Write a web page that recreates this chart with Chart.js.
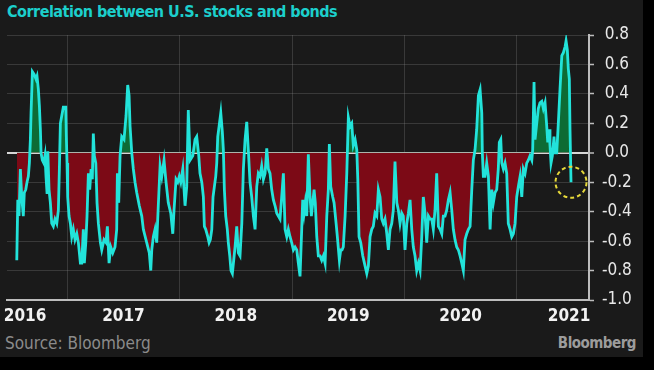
<!DOCTYPE html>
<html>
<head>
<meta charset="utf-8">
<script src="https://cdn.jsdelivr.net/npm/chart.js@4.4.1/dist/chart.umd.min.js"></script>
<style>
  html, body { margin: 0; padding: 0; background: #000; }
  body { width: 654px; height: 370px; overflow: hidden; position: relative; }
  .panel { position: absolute; left: 0; top: 0; width: 643px; height: 357px; background: #1a1a1a; }
  .title { position: absolute; left: 7px; top: 2px; color: #1ccfcc; font: bold 16px "DejaVu Sans Condensed", "DejaVu Sans", sans-serif; letter-spacing: -0.5px; white-space: nowrap; }
  .source { position: absolute; left: 5px; top: 333px; color: #8b8b8b; font: 17px "DejaVu Sans Condensed", "DejaVu Sans", sans-serif; }
  .logo { position: absolute; right: 7px; top: 334px; color: #9c9c9c; font: bold 15px "DejaVu Sans Condensed", "DejaVu Sans", sans-serif; letter-spacing: -0.5px; }
  canvas { position: absolute; left: 0; top: 20px; }
</style>
</head>
<body>
<div class="panel">
  <div class="title">Correlation between U.S. stocks and bonds</div>
  <canvas id="corr-chart" width="644" height="310"></canvas>
  <div class="source">Source: Bloomberg</div>
  <div class="logo">Bloomberg</div>
</div>
<script>
// rolling correlation, dates as decimal years
const dates = [
  2016.051, 2016.060, 2016.071, 2016.083, 2016.095, 2016.109, 2016.118, 2016.131, 2016.142, 2016.154,
  2016.163, 2016.172, 2016.178, 2016.190, 2016.207, 2016.222, 2016.231, 2016.243, 2016.252, 2016.261,
  2016.267, 2016.278, 2016.291, 2016.302, 2016.311, 2016.320, 2016.327, 2016.338, 2016.350, 2016.362,
  2016.376, 2016.391, 2016.407, 2016.421, 2016.430, 2016.439, 2016.451, 2016.465, 2016.487, 2016.492,
  2016.498, 2016.504, 2016.516, 2016.528, 2016.540, 2016.554, 2016.569, 2016.585, 2016.599, 2016.617,
  2016.629, 2016.643, 2016.652, 2016.665, 2016.676, 2016.688, 2016.700, 2016.712, 2016.723, 2016.732,
  2016.741, 2016.754, 2016.765, 2016.777, 2016.795, 2016.807, 2016.827, 2016.845, 2016.857, 2016.872,
  2016.887, 2016.905, 2016.925, 2016.940, 2016.946, 2016.958, 2016.970, 2016.985, 2017.005, 2017.023,
  2017.038, 2017.050, 2017.059, 2017.074, 2017.088, 2017.103, 2017.118, 2017.141, 2017.163, 2017.177,
  2017.207, 2017.230, 2017.243, 2017.252, 2017.266, 2017.281, 2017.296, 2017.310, 2017.326, 2017.341,
  2017.361, 2017.379, 2017.399, 2017.421, 2017.439, 2017.450, 2017.468, 2017.483, 2017.497, 2017.510,
  2017.528, 2017.548, 2017.563, 2017.577, 2017.593, 2017.617, 2017.637, 2017.652, 2017.670, 2017.681,
  2017.697, 2017.711, 2017.720, 2017.732, 2017.750, 2017.762, 2017.773, 2017.786, 2017.797, 2017.809,
  2017.821, 2017.830, 2017.839, 2017.851, 2017.866, 2017.880, 2017.889, 2017.898, 2017.910, 2017.924,
  2017.933, 2017.946, 2017.957, 2017.969, 2017.981, 2017.993, 2018.008, 2018.022, 2018.037, 2018.053,
  2018.067, 2018.082, 2018.097, 2018.111, 2018.126, 2018.141, 2018.156, 2018.171, 2018.186, 2018.200,
  2018.215, 2018.230, 2018.245, 2018.260, 2018.275, 2018.289, 2018.304, 2018.319, 2018.334, 2018.349,
  2018.364, 2018.378, 2018.393, 2018.408, 2018.423, 2018.438, 2018.453, 2018.467, 2018.482, 2018.497,
  2018.512, 2018.527, 2018.542, 2018.556, 2018.571, 2018.586, 2018.595, 2018.607, 2018.618, 2018.631,
  2018.645, 2018.660, 2018.672, 2018.684, 2018.696, 2018.707, 2018.720, 2018.734, 2018.749, 2018.764,
  2018.779, 2018.794, 2018.809, 2018.823, 2018.832, 2018.844, 2018.862, 2018.874, 2018.892, 2018.903,
  2018.921, 2018.933, 2018.945, 2018.956, 2018.972, 2018.987, 2019.001, 2019.016, 2019.031, 2019.045,
  2019.061, 2019.076, 2019.085, 2019.096, 2019.111, 2019.129, 2019.150, 2019.165, 2019.179, 2019.194,
  2019.209, 2019.223, 2019.238, 2019.254, 2019.268, 2019.283, 2019.298, 2019.312, 2019.327, 2019.343,
  2019.357, 2019.372, 2019.387, 2019.401, 2019.416, 2019.432, 2019.446, 2019.461, 2019.476, 2019.490,
  2019.505, 2019.521, 2019.535, 2019.550, 2019.565, 2019.579, 2019.594, 2019.609, 2019.624, 2019.639,
  2019.654, 2019.668, 2019.683, 2019.698, 2019.713, 2019.728, 2019.743, 2019.757, 2019.772, 2019.787,
  2019.802, 2019.817, 2019.832, 2019.846, 2019.861, 2019.876, 2019.891, 2019.906, 2019.921, 2019.935,
  2019.950, 2019.965, 2019.980, 2019.995, 2020.010, 2020.024, 2020.039, 2020.054, 2020.069, 2020.084,
  2020.099, 2020.113, 2020.128, 2020.143, 2020.158, 2020.173, 2020.188, 2020.193, 2020.202, 2020.217,
  2020.232, 2020.247, 2020.262, 2020.277, 2020.291, 2020.306, 2020.321, 2020.335, 2020.344, 2020.357,
  2020.366, 2020.380, 2020.395, 2020.410, 2020.424, 2020.440, 2020.455, 2020.469, 2020.484, 2020.499,
  2020.513, 2020.529, 2020.544, 2020.558, 2020.573, 2020.588, 2020.602, 2020.617, 2020.633, 2020.641,
  2020.653, 2020.662, 2020.677, 2020.691, 2020.706, 2020.722, 2020.736, 2020.751, 2020.766, 2020.775,
  2020.787, 2020.795, 2020.804, 2020.816, 2020.831, 2020.840, 2020.855, 2020.869, 2020.884, 2020.900,
  2020.914, 2020.929, 2020.938, 2020.949, 2020.958, 2020.967, 2020.973, 2020.982
];

const correlation = [
  -0.73, -0.32, -0.43, -0.11, -0.30, -0.43, -0.27, -0.25, -0.20, -0.16,
  -0.07, 0.09, 0.27, 0.55, 0.53, 0.50, 0.52, 0.43, 0.32, 0.16,
  0.00, -0.05, -0.07, -0.02, -0.16, -0.27, 0.01, -0.25, -0.34, -0.48,
  -0.50, -0.45, -0.48, -0.39, -0.11, 0.20, 0.25, 0.31, 0.31, 0.11,
  -0.07, -0.30, -0.43, -0.48, -0.57, -0.52, -0.59, -0.55, -0.61, -0.75,
  -0.75, -0.52, -0.75, -0.61, -0.43, -0.14, -0.25, -0.11, -0.18, 0.13,
  -0.02, -0.07, -0.34, -0.48, -0.61, -0.66, -0.59, -0.61, -0.50, -0.75,
  -0.64, -0.68, -0.64, -0.52, -0.14, -0.34, -0.02, 0.11, 0.09, 0.25,
  0.46, 0.39, 0.18, 0.00, -0.11, -0.20, -0.27, -0.36, -0.43, -0.52,
  -0.61, -0.68, -0.80, -0.66, -0.57, -0.52, -0.61, -0.36, -0.09, -0.16,
  -0.05, -0.20, -0.34, -0.41, -0.55, -0.39, -0.18, -0.20, -0.16, -0.20,
  -0.11, -0.36, -0.23, 0.29, -0.05, -0.02, 0.09, 0.11, -0.02, -0.14,
  -0.20, -0.30, -0.50, -0.52, -0.57, -0.61, -0.59, -0.52, -0.30, -0.23,
  -0.16, -0.07, 0.11, 0.18, 0.27, 0.14, 0.02, -0.25, -0.43, -0.52,
  -0.61, -0.70, -0.80, -0.82, -0.73, -0.64, -0.50, -0.68, -0.70, -0.48,
  -0.11, 0.09, 0.21, 0.02, -0.20, -0.30, -0.43, -0.52, -0.23, -0.14,
  -0.16, -0.09, -0.18, -0.14, 0.03, -0.11, -0.14, -0.25, -0.32, -0.36,
  -0.41, -0.43, -0.45, -0.30, -0.14, -0.52, -0.57, -0.52, -0.57, -0.61,
  -0.66, -0.64, -0.66, -0.75, -0.84, -0.52, -0.32, -0.41, -0.34, -0.43,
  -0.01, -0.30, -0.43, -0.34, -0.25, -0.34, -0.57, -0.70, -0.70, -0.73,
  -0.70, -0.75, -0.43, -0.25, 0.06, -0.23, -0.30, -0.34, -0.48, -0.57,
  -0.73, -0.66, -0.66, -0.64, -0.43, -0.14, 0.24, 0.18, 0.20, 0.05,
  0.09, 0.02, -0.18, -0.57, -0.61, -0.70, -0.77, -0.82, -0.77, -0.57,
  -0.52, -0.50, -0.41, -0.43, -0.25, -0.30, -0.45, -0.48, -0.45, -0.55,
  -0.66, -0.52, -0.48, -0.39, -0.06, -0.34, -0.39, -0.48, -0.41, -0.43,
  -0.66, -0.48, -0.41, -0.32, -0.52, -0.64, -0.70, -0.80, -0.75, -0.80,
  -0.57, -0.30, -0.41, -0.61, -0.43, -0.45, -0.45, -0.52, -0.39, -0.14,
  -0.50, -0.52, -0.55, -0.43, -0.43, -0.39, -0.32, -0.27, -0.39, -0.52,
  -0.59, -0.64, -0.66, -0.70, -0.75, -0.80, -0.59, -0.55, -0.52, -0.50,
  -0.25, -0.05, 0.02, 0.16, 0.39, 0.43, 0.27, 0.00, -0.16, -0.16,
  -0.07, -0.16, -0.52, -0.25, -0.34, -0.27, -0.25, -0.11, 0.07, 0.09,
  -0.07, -0.11, -0.07, -0.14, -0.48, -0.52, -0.57, -0.55, -0.48, -0.30,
  -0.23, -0.16, -0.30, -0.11, -0.14, -0.07, -0.05, -0.02, -0.05, 0.02,
  0.48, 0.09, 0.20, 0.30, 0.34, 0.35, 0.30, 0.34, 0.18, 0.07,
  0.16, 0.05, -0.07, -0.02, 0.11, 0.00, 0.00, 0.20, 0.43, 0.66,
  0.68, 0.72, 0.76, 0.70, 0.57, 0.50, 0.16, -0.20
];

// x axis: year labels (first/last kept inside the frame), grid at mid-year
const yearLabels = ["2016", "2017", "2018", "2019", "2020", "2021"];
const yearLabelAt = [2016.125, 2017, 2018, 2019, 2020, 2020.965];
const midYearGrid = [2016.5, 2017.5, 2018.5, 2019.5, 2020.5];
const yTicks = [-1.0, -0.8, -0.6, -0.4, -0.2, 0.0, 0.2, 0.4, 0.6, 0.8];

const FONT = "'DejaVu Sans Condensed', 'DejaVu Sans', sans-serif";
const LINE = "#22e3da";
const GREEN = "#0d6b34";
const RED = "#7c0a16";
const GRID = "rgba(150, 150, 150, 0.25)";
const AXIS = "#bdbdbd";

// dashed ring around the latest reading
const circleLast = {
  id: "circleLast",
  afterDatasetsDraw(chart) {
    const pts = chart.getDatasetMeta(0).data;
    const p = pts[pts.length - 1];
    const ctx = chart.ctx;
    ctx.save();
    ctx.strokeStyle = "#e6d83a";
    ctx.lineWidth = 2;
    ctx.setLineDash([4, 3]);
    ctx.beginPath();
    ctx.arc(p.x, p.y, 15.5, 0, Math.PI * 2);
    ctx.stroke();
    ctx.restore();
  },
};

new Chart("corr-chart", {
  type: "line",
  data: {
    datasets: [
      {
        data: dates.map((d, i) => ({ x: d, y: correlation[i] })),
        borderColor: LINE,
        borderWidth: 2.8,
        pointRadius: 0,
        tension: 0,
        fill: { target: { value: 0 }, above: GREEN, below: RED },
      },
    ],
  },
  options: {
    responsive: false,
    animation: false,
    layout: { padding: { left: 7, top: 15, right: 0, bottom: 0 } },
    plugins: { legend: { display: false }, tooltip: { enabled: false } },
    scales: {
      x: {
        type: "linear",
        min: 2015.964,
        max: 2021.142,
        z: 1,
        afterBuildTicks: (s) => {
          s.ticks = [...yearLabelAt, ...midYearGrid]
            .sort((a, b) => a - b)
            .map((v) => ({ value: v }));
        },
        afterFit: (s) => {
          s.height = 30;
          s.paddingLeft = 0;
          s.paddingRight = 0;
        },
        grid: {
          color: (c) => (c.tick && midYearGrid.includes(c.tick.value) ? GRID : "transparent"),
          drawTicks: false,
        },
        border: { color: AXIS, width: 2 },
        ticks: {
          autoSkip: false,
          maxRotation: 0,
          padding: 6,
          color: "#f2f2f2",
          font: { family: FONT, size: 17, weight: "bold" },
          callback: (v) => {
            const i = yearLabelAt.indexOf(v);
            return i >= 0 ? yearLabels[i] : "";
          },
        },
      },
      y: {
        position: "right",
        min: -1,
        max: 0.8,
        z: 1,
        afterBuildTicks: (s) => {
          s.ticks = yTicks.map((v) => ({ value: v }));
        },
        afterFit: (s) => {
          s.width = 55;
          s.paddingTop = 0;
          s.paddingBottom = 0;
        },
        grid: {
          color: (c) => (c.tick && c.tick.value === 0 ? "#d6d6d6" : GRID),
          lineWidth: (c) => (c.tick && c.tick.value === 0 ? 2 : 1),
          tickColor: AXIS,
          tickLength: 5,
          tickWidth: 1.5,
        },
        border: { color: AXIS, width: 2 },
        ticks: {
          crossAlign: "center",
          padding: 8,
          color: "#e8e8e8",
          font: { family: FONT, size: 17 },
          callback: (v) => v.toFixed(1),
        },
      },
    },
  },
  plugins: [circleLast],
});
</script>
</body>
</html>
